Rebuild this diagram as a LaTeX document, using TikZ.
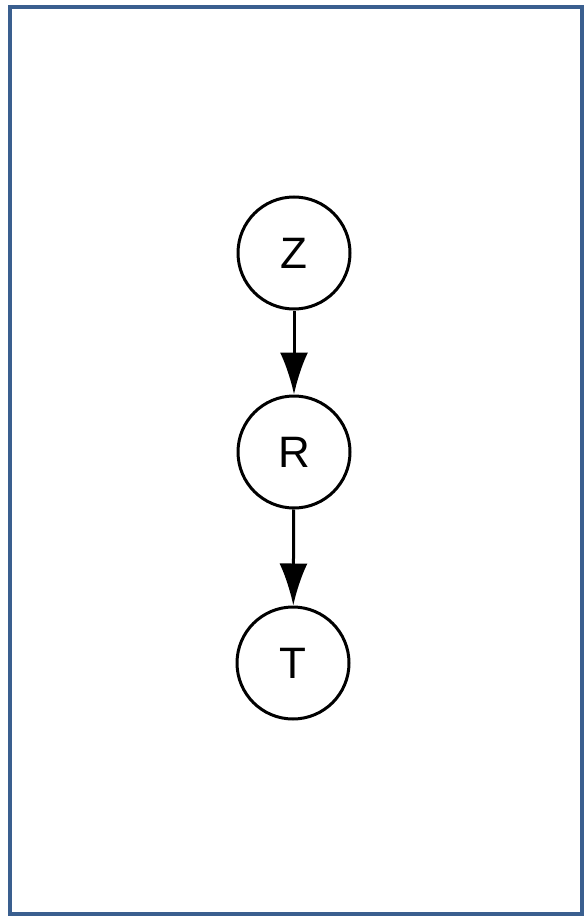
\documentclass[tikz,border=0pt]{standalone}
\usepackage{fontspec}
\setmainfont{Liberation Sans}
\usetikzlibrary{arrows.meta}
\usetikzlibrary{positioning}
\definecolor{frameblue}{HTML}{3A5F8F}
\tikzset{
    vnode/.style = {circle, draw=black, line width=3pt, minimum size=112pt, inner sep=0pt, font=\fontsize{44}{44}\selectfont},
    frame/.style = {draw=frameblue, line width=4pt}
}

\begin{document}
\begin{tikzpicture}[x=1pt, y=-1pt, ->, >={Latex[length=42pt,width=28pt]}, line width=3pt]
    \useasboundingbox (0,0) rectangle (586,917);
    \draw [frame, -] (10,7) rectangle (582,914);
    \node [vnode] (z) at (294,253) {Z};
    \node [vnode, below=84pt of z] (r) {R};
    \node [vnode, below=96pt of r, xshift=-1pt] (t) {T};
    \draw (z) -- (r);
    \draw (r) -- (t);
\end{tikzpicture}
\end{document}
